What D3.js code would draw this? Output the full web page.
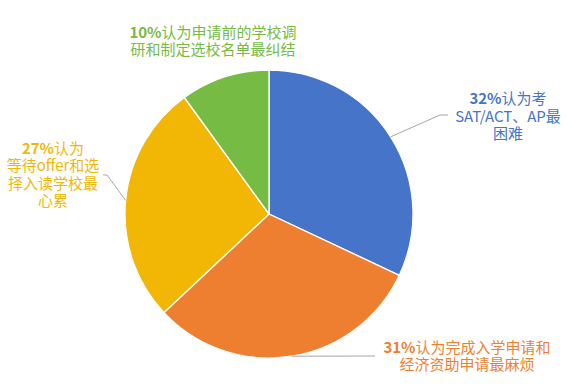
<!DOCTYPE html>
<html>
<head>
<meta charset="utf-8">
<script src="https://cdn.jsdelivr.net/npm/d3@7/dist/d3.min.js"></script>
<style>
  html, body { margin: 0; padding: 0; background: #fff; }
  svg { display: block; }
</style>
</head>
<body>
<script>
// data
var values = [32, 31, 27, 10];
var pctLabels = ["32%", "31%", "27%", "10%"];
var labelLines = [
  ["认为考", "SAT/ACT、AP最", "困难"],
  ["认为完成入学申请和", "经济资助申请最麻烦"],
  ["认为", "等待offer和选", "择入读学校最", "心累"],
  ["认为申请前的学校调", "研和制定选校名单最纠结"]
];
var colors = ["#4674C8", "#EE7F30", "#F2B705", "#76BB44"];

// label layout (centre x, first baseline y, leader elbow + end)
var layout = [
  {x: 508, y: 104, leader: [[440, 115], [448, 115]]},
  {x: 467, y: 352.5, leader: [[375, 356], [375, 356]]},
  {x: 53, y: 153.5, leader: [[107, 175], [103, 175]]},
  {x: 213, y: 37.5, leader: null}
];

var W = 577, H = 391;
var cx = 269, cy = 214, R = 144;
var lineH = 17.5;

var svg = d3.select("body").append("svg")
  .attr("width", W).attr("height", H);

var pie = d3.pie().sort(null).value(function(d) { return d; });
var arcs = pie(values);
var arc = d3.arc().innerRadius(0).outerRadius(R);

var g = svg.append("g").attr("transform", "translate(" + cx + "," + cy + ")");

g.selectAll("path")
  .data(arcs)
  .enter().append("path")
  .attr("d", arc)
  .attr("fill", function(d, i) { return colors[i]; })
  .attr("stroke", "#fff")
  .attr("stroke-width", 1.3)
  .attr("stroke-linejoin", "round");

// leader lines from the middle of each slice's outer edge
arcs.forEach(function(d, i) {
  var L = layout[i];
  if (!L.leader) return;
  var mid = (d.startAngle + d.endAngle) / 2;
  var p0 = [cx + R * Math.sin(mid), cy - R * Math.cos(mid)];
  var pts = [p0].concat(L.leader);
  svg.append("path")
    .attr("d", d3.line()(pts))
    .attr("fill", "none")
    .attr("stroke", "#a6a6a6")
    .attr("stroke-width", 1);
});

// labels, one text per line
arcs.forEach(function(d, i) {
  var L = layout[i];
  labelLines[i].forEach(function(line, k) {
    var t = svg.append("text")
      .attr("x", L.x)
      .attr("y", L.y + k * lineH)
      .attr("text-anchor", "middle")
      .attr("fill", colors[i])
      .style("font-family", "'Noto Sans CJK SC', 'Noto Sans', sans-serif")
      .style("font-size", "15px");
    if (k == 0) {
      t.append("tspan").attr("font-weight", "bold").text(pctLabels[i]);
      t.append("tspan").text(line);
    } else {
      t.text(line);
    }
  });
});
</script>
</body>
</html>
